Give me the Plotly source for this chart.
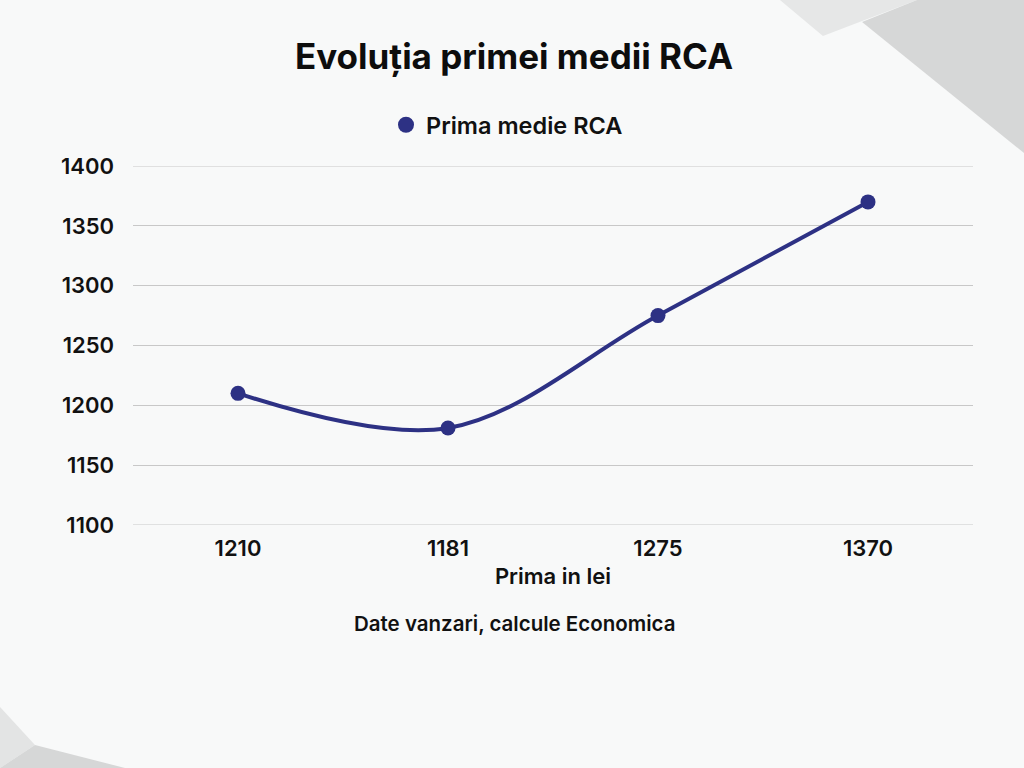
import plotly.graph_objects as go

categories = ["1210", "1181", "1275", "1370"]
values = [1210, 1181, 1275, 1370]
y_ticks = [1100, 1150, 1200, 1250, 1300, 1350, 1400]

title_text = "Evoluția primei medii RCA"
series_name = "Prima medie RCA"
x_title = "Prima in lei"
source_text = "Date vanzari, calcule Economica"

FONT = "Inter"
LINE_COLOR = "#2d3184"
TXT = "#111111"
GRID = "#c8c8c8"

fig = go.Figure()
fig.add_trace(go.Scatter(
    x=categories, y=values, name=series_name,
    mode="lines+markers", showlegend=False,
    line=dict(color=LINE_COLOR, width=4, shape="spline", smoothing=1.0),
    marker=dict(color=LINE_COLOR, size=15),
))
# legend-only entry: big circle marker
fig.add_trace(go.Scatter(
    x=[None], y=[None], name=series_name, mode="markers",
    marker=dict(color=LINE_COLOR, size=22), showlegend=True,
))

W, H = 1024, 768
L, R, T, B = 133, 51, 166, 243
pw, ph = W - L - R, H - T - B

def to_paper(px, py):
    return ((px - L) / pw, 1 - (py - T) / ph)

def poly_px(pts, color):
    coords = [to_paper(x, y) for x, y in pts]
    path = "M " + " L ".join(f"{x:.4f},{y:.4f}" for x, y in coords) + " Z"
    fig.add_shape(type="path", path=path, xref="paper", yref="paper",
                  fillcolor=color, line=dict(width=0), layer="below")

poly_px([(780, 0), (823, 36), (917, 0)], "#e6e7e7")
poly_px([(862, 22), (917, 0), (1024, 0), (1024, 153)], "#d6d7d7")
poly_px([(0, 707), (35, 745), (0, 768)], "#e3e4e4")
poly_px([(35, 745), (125, 768), (0, 768)], "#d6d7d7")

# edge gridlines (plotly omits them at the range boundaries)
for yv in (y_ticks[0], y_ticks[-1]):
    fig.add_shape(type="line", xref="paper", yref="y", x0=0, x1=1, y0=yv, y1=yv,
                  line=dict(color=GRID, width=1), layer="below")

fig.update_layout(
    width=W, height=H,
    margin=dict(l=L, r=R, t=T, b=B, pad=0, autoexpand=False),
    paper_bgcolor="#f8f9f9",
    plot_bgcolor="rgba(0,0,0,0)",
    font=dict(family=FONT, color=TXT),
    title=dict(text=title_text, x=514/1024, xanchor="center", y=1 - 57/768, yanchor="middle",
               font=dict(size=35, family=FONT, weight=700, color="#0d0d0d")),
    showlegend=True,
    legend=dict(orientation="h", x=386/1024, xanchor="left", xref="container",
                y=1 - 125/768, yanchor="middle", yref="container",
                font=dict(size=23.5, family=FONT, weight=600, color=TXT),
                bgcolor="rgba(0,0,0,0)", itemsizing="trace"),
    xaxis=dict(
        type="category", range=[-0.5, 3.5],
        showgrid=False, zeroline=False, showline=False, ticks="",
        tickfont=dict(size=22, family=FONT, weight=600, color=TXT),
        ticklabelstandoff=8, automargin=False,
        title=dict(text=x_title, font=dict(size=22, family=FONT, weight=600, color=TXT),
                   standoff=8),
    ),
    yaxis=dict(
        range=[1100, 1400], tickvals=y_ticks,
        showgrid=True, gridcolor=GRID, gridwidth=1,
        zeroline=False, showline=False, ticks="",
        tickfont=dict(size=22, family=FONT, weight=600, color=TXT),
        ticklabelstandoff=18, automargin=False,
    ),
    annotations=[dict(text=source_text, xref="paper", yref="paper",
                      x=to_paper(514, 0)[0], y=to_paper(0, 623)[1],
                      xanchor="center", yanchor="middle", showarrow=False,
                      font=dict(size=20.5, family=FONT, weight=600, color=TXT))],
)

fig.write_html("out.html")
